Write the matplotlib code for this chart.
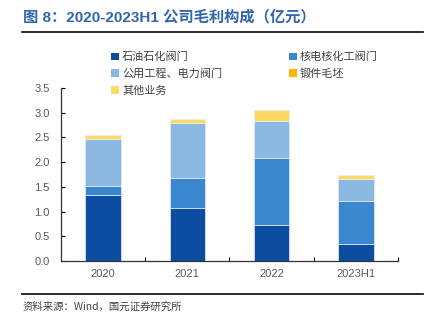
import numpy as np
import matplotlib
matplotlib.use('Agg')
import matplotlib.pyplot as plt
from matplotlib.patches import Patch
from matplotlib.lines import Line2D

plt.rcParams['font.family'] = ['Liberation Sans', 'Noto Sans CJK SC', 'DejaVu Sans']

categories = ['2020', '2021', '2022', '2023H1']
series_names = ['石油石化阀门', '核电核化工阀门', '公用工程、电力阀门', '锻件毛坯', '其他业务']
petro = [1.33, 1.08, 0.73, 0.34]
nuclear = [0.18, 0.60, 1.35, 0.88]
utility = [0.96, 1.11, 0.76, 0.44]
forging = [0.0, 0.0, 0.0, 0.0]
other = [0.07, 0.08, 0.22, 0.07]
colors = ['#0C4DA2', '#3A87CF', '#8AB8E0', '#FFB300', '#FFD966']

yticks = [0.0, 0.5, 1.0, 1.5, 2.0, 2.5, 3.0, 3.5]

W, H = 427, 324
fig = plt.figure(figsize=(W / 100, H / 100), dpi=100, facecolor='white')
ax = fig.add_axes([61 / W, 1 - 261 / H, (398 - 61) / W, (261 - 88) / H])

x = np.arange(len(categories))
bottom = np.zeros(len(categories))
handles = []
for name, vals, c in zip(series_names, [petro, nuclear, utility, forging, other], colors):
    ax.bar(x, vals, width=0.42, bottom=bottom, color=c, edgecolor='#E6EEF7', linewidth=0.5, zorder=2)
    bottom += np.array(vals)
    handles.append(Patch(facecolor=c, edgecolor='none'))

ax.set_xlim(-0.5, 3.5)
ax.set_ylim(0, 3.5)
ax.set_yticks(yticks)
ax.set_yticklabels([f'{v:.1f}' for v in yticks])
ax.set_xticks(x)
ax.set_xticklabels(categories)
ax.set_xticks([0.5, 1.5, 2.5, 3.5], minor=True)
ax.tick_params(axis='y', direction='in', length=3, width=0.8, labelsize=8, labelcolor='#595959', pad=8)
ax.tick_params(axis='x', which='major', length=0, labelsize=8, labelcolor='#595959', pad=6)
ax.tick_params(axis='x', which='minor', direction='in', length=3, width=0.8)
for s in ['top', 'right']:
    ax.spines[s].set_visible(False)
for s in ['left', 'bottom']:
    ax.spines[s].set_color('#333333')
    ax.spines[s].set_linewidth(0.9)

# legend: row-major order as in the original
order = [0, 2, 4, 1, 3]
leg = fig.legend([handles[i] for i in order], [series_names[i] for i in order],
                 ncol=2, loc='upper left', bbox_to_anchor=(101 / W, 1 - 42 / H),
                 frameon=False, handlelength=0.7, handleheight=0.7,
                 handletextpad=0.3, columnspacing=6.0, labelspacing=0.55,
                 prop={'family': ['Noto Sans CJK SC'], 'size': 8})
for t in leg.get_texts():
    t.set_color('#404040')

# title and rules
fig.text(23 / W, 1 - 17 / H, '图 8：2020-2023H1 公司毛利构成（亿元）', fontsize=11,
         fontweight='bold', color='#3366AA', va='center', ha='left',
         family=['Liberation Sans', 'Noto Sans CJK SC'])
fig.add_artist(Line2D([22 / W, 423 / W], [1 - 31.5 / H, 1 - 31.5 / H], color='#1a1a1a', lw=1.3))
fig.add_artist(Line2D([22 / W, 423 / W], [1 - 294 / H, 1 - 294 / H], color='#1a1a1a', lw=1.3))
fig.text(23 / W, 1 - 307 / H, '资料来源：Wind，国元证券研究所', fontsize=7.5, color='#404040',
         va='center', ha='left', family=['Noto Sans CJK SC', 'Liberation Sans'])

fig.savefig('out.png', dpi=100, facecolor='white')
